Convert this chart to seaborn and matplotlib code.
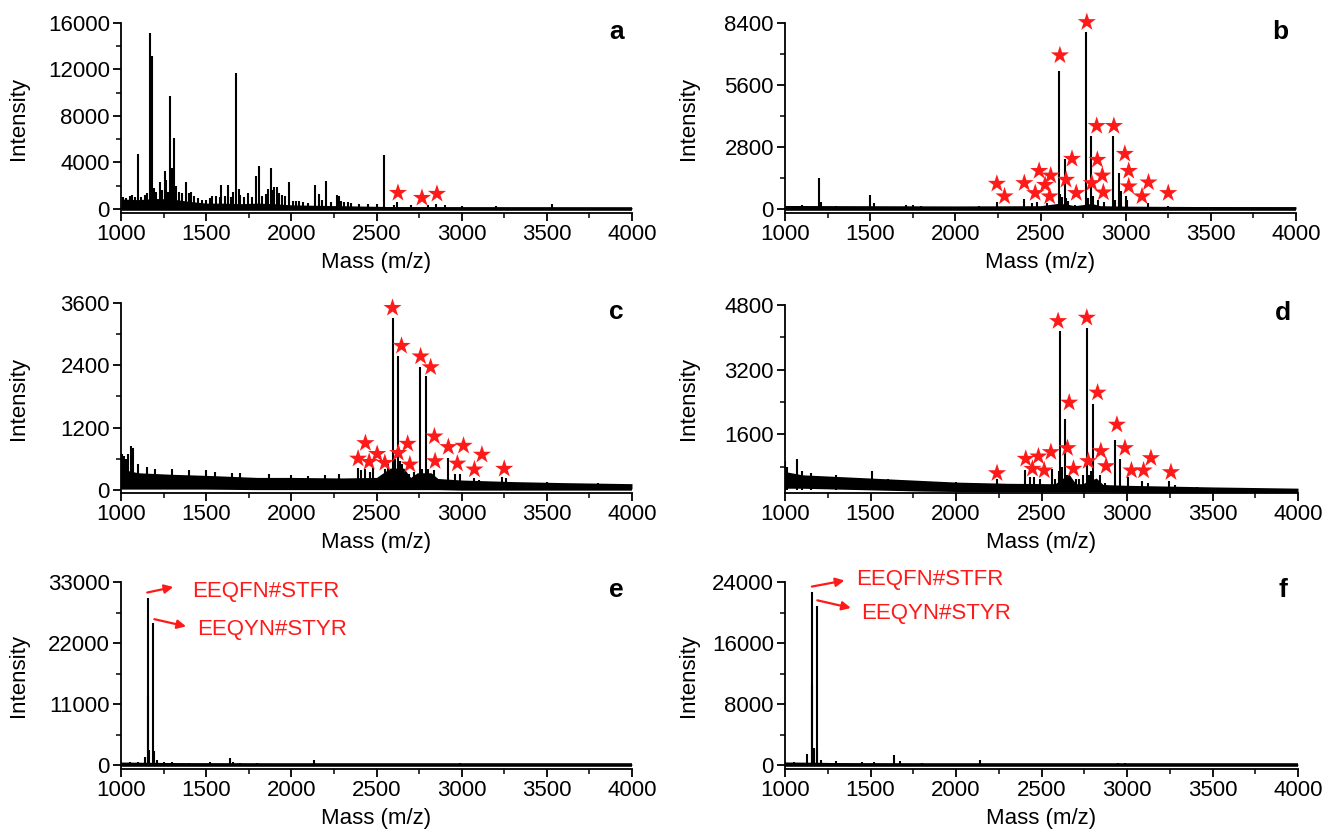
import numpy as np
import pandas as pd
import matplotlib
matplotlib.use("Agg")
import matplotlib.pyplot as plt
from matplotlib.ticker import MultipleLocator
import seaborn as sns

sns.set_theme(style="ticks")
plt.rcParams["font.family"] = ["Liberation Sans", "DejaVu Sans"]

# ---------------- spectra (m/z, intensity) ----------------
# a
a_peak_mass = [1100, 1172, 1184, 1227, 1256, 1286, 1297, 1311, 1384, 1409, 1477, 1532, 1559,
               1590, 1630, 1657, 1677, 1690, 1745, 1793, 1808, 1865, 1880, 1900, 1917, 1943,
               1987, 2045, 2070, 2137, 2162, 2205, 2266, 2280, 2310, 2335, 2545,
               1010, 1030, 1050, 1065, 1080, 1120, 1140, 1155, 1195, 1205, 1240, 1265, 1275,
               1300, 1320, 1340, 1360, 1400, 1430, 1450, 1500, 1520, 1580, 1610, 1645, 1700,
               1720, 1770, 1830, 1850, 1890, 1930, 1960, 2010, 2030, 2100, 2180, 2230, 2290,
               2350, 2400, 2450, 2500, 2600, 2620, 2700, 2800, 2850, 2900, 3000, 3200, 3530]
a_peak_int = [4700, 15100, 13200, 2300, 3300, 9750, 3400, 6100, 2300, 1500, 800, 1100, 1100,
              2100, 2050, 1500, 11700, 1700, 1350, 2800, 3700, 1700, 3500, 1900, 1900, 1200,
              2300, 700, 600, 2100, 1300, 2400, 1200, 1100, 600, 600, 4600,
              1000, 900, 1100, 1200, 1000, 1000, 1200, 1400, 1800, 1500, 1600, 2500, 1500,
              3500, 2000, 1500, 1400, 1400, 1100, 900, 800, 900, 1000, 1100, 1000, 1200,
              1000, 1000, 1100, 1300, 1600, 1400, 1100, 700, 700, 500, 800, 600, 700,
              500, 400, 400, 400, 350, 600, 300, 300, 400, 300, 250, 250, 450]
a_star_mass = [2626, 2767, 2855]
a_star_int = [1380, 950, 1300]
a_base_mass = [1000, 1100, 1200, 1300, 1400, 1500, 1600, 1700, 1800, 1900, 2000, 2200, 2400,
               2600, 3000, 3500, 4000]
a_base_lo = [0] * 17
a_base_hi = [850, 800, 900, 850, 650, 500, 500, 450, 500, 450, 350, 300, 250, 200, 170, 150, 130]

# b
b_peak_mass = [1100, 1200, 1210, 1300, 1500, 1520, 1710, 1750, 1800, 2140, 2244, 2405, 2450,
               2480, 2540, 2606, 2615, 2625, 2641, 2650, 2660, 2700, 2765, 2780, 2798, 2810,
               2840, 2870, 2927, 2940, 2960, 2975, 3000, 3010, 3130, 3250]
b_peak_int = [200, 1400, 300, 150, 630, 250, 200, 200, 150, 150, 300, 450, 250,
              300, 250, 6250, 700, 550, 2250, 500, 350, 200, 8000, 500, 3300, 600,
              400, 300, 3300, 400, 1620, 800, 570, 400, 250, 150]
b_star_mass = [2772, 2614, 2830, 2931, 2685, 2834, 2995, 2492, 2560, 3018, 2244, 2405, 2527,
               2650, 2863, 2801, 3134, 2289, 2469, 2554, 2710, 2869, 3018, 3096, 3250]
b_star_int = [8440, 6940, 3750, 3750, 2265, 2220, 2490, 1720, 1510, 1720, 1140, 1170, 1090,
              1320, 1510, 1170, 1200, 570, 720, 570, 720, 750, 1020, 570, 720]
b_base_mass = [1000, 1500, 2000, 2500, 2600, 2650, 2700, 2750, 2800, 2850, 3000, 3500, 4000]
b_base_lo = [0] * 13
b_base_hi = [160, 150, 140, 150, 250, 230, 150, 200, 250, 150, 130, 110, 100]

# c
c_peak_mass = [2594, 2628, 2755, 2791, 2918,
               1005, 1015, 1030, 1040, 1060, 1070, 1100, 1150, 1200, 1300, 1400, 1500, 1550,
               1650, 1700, 1870, 2000, 2100, 2200, 2280, 2392, 2410, 2435, 2460, 2480, 2550,
               2570, 2600, 2610, 2640, 2650, 2690, 2720, 2770, 2800, 2840, 2960, 2990, 3075,
               3100, 3236, 3260, 3500, 3800]
c_peak_int = [3315, 2583, 2362, 2202, 615,
              700, 650, 600, 700, 850, 800, 500, 450, 400, 400, 380, 380, 350,
              330, 330, 300, 280, 260, 280, 300, 420, 380, 400, 350, 450, 400,
              500, 550, 600, 550, 500, 300, 350, 400, 400, 380, 300, 300, 230,
              200, 250, 220, 150, 130]
c_star_mass = [2594, 2647, 2759, 2818, 2435, 2392, 2457, 2504, 2549, 2628, 2683, 2696, 2840,
               2844, 2922, 2975, 3011, 3075, 3119, 3250]
c_star_int = [3505, 2774, 2571, 2363, 901, 602, 539, 692, 520, 711, 888, 488, 1029,
              553, 825, 507, 850, 393, 678, 406]
c_base_mass = [1000, 1100, 1300, 1500, 1800, 2000, 2300, 2500, 2580, 2660, 2700, 2740, 2820,
               2860, 3000, 3300, 3600, 4000]
c_base_lo = [40, 40, 40, 40, 30, 30, 30, 30, 30, 30, 30, 30, 30, 30, 20, 20, 20, 20]
c_base_hi = [400, 330, 300, 280, 240, 240, 230, 240, 420, 420, 240, 330, 330, 220, 190, 160,
             140, 120]

# d
d_peak_mass = [2607, 2769, 2636, 2802, 2931, 2960,
               1000, 1010, 1070, 1100, 1150, 1300, 1510, 1600, 1800, 2000, 2240, 2402, 2434,
               2457, 2492, 2564, 2580, 2600, 2620, 2650, 2700, 2720, 2745, 2780, 2790, 2841,
               2870, 3003, 3085, 3120, 3247, 3280, 3412, 3600]
d_peak_int = [4154, 4220, 1972, 2343, 1451, 997,
              950, 800, 980, 700, 650, 600, 700, 500, 450, 420, 500, 731, 550,
              550, 500, 750, 500, 700, 800, 600, 500, 500, 600, 600, 700, 600,
              400, 550, 450, 400, 450, 350, 300, 250]
d_star_mass = [2597, 2765, 2662, 2828, 2941, 2652, 2988, 2408, 2482, 2555, 2773, 2847, 3140,
               2447, 2516, 2687, 2878, 3026, 3097, 3257, 2240]
d_star_int = [4402, 4485, 2385, 2633, 1840, 1260, 1260, 996, 1054, 1161, 938, 1186, 1012,
              748, 707, 748, 814, 707, 707, 665, 640]
d_base_mass = [1000, 1100, 1300, 1500, 1800, 2000, 2300, 2580, 2660, 2700, 2740, 2820, 2860,
               3000, 3500, 4000]
d_base_lo = [300, 300, 280, 260, 230, 220, 210, 210, 210, 210, 210, 210, 210, 200, 190, 180]
d_base_hi = [680, 600, 560, 520, 460, 420, 390, 380, 620, 380, 380, 520, 360, 340, 300, 270]

# e
e_peak_mass = [1157, 1187, 1160, 1165, 1192,
               1000, 1050, 1100, 1140, 1210, 1250, 1300, 1400, 1520, 1638, 1660, 1700, 1800,
               2136, 2500, 2990]
e_peak_int = [30200, 25700, 12500, 2700, 2500,
              500, 600, 600, 1500, 900, 600, 500, 450, 600, 1200, 600, 400, 350,
              900, 200, 300]
e_base_mass = [1000, 1200, 1400, 1600, 2000, 2500, 3000, 4000]
e_base_lo = [0] * 8
e_base_hi = [550, 500, 400, 350, 280, 220, 200, 180]

# f
f_peak_mass = [1157, 1189, 1160, 1170, 1185,
               1000, 1050, 1130, 1210, 1300, 1450, 1520, 1640, 1670, 1800, 2140, 2950, 2990]
f_peak_int = [22700, 20900, 10500, 2300, 2000,
              400, 400, 1500, 700, 500, 400, 400, 1300, 500, 350, 720, 250, 300]
f_base_mass = [1000, 1200, 1400, 1600, 2000, 2500, 3000, 4000]
f_base_lo = [0] * 8
f_base_hi = [420, 380, 300, 260, 200, 170, 150, 130]

# peptide labels
pep_labels = ["EEQFN#STFR", "EEQYN#STYR"]

# ---------------- figure ----------------
W, H = 1326, 836
fig = plt.figure(figsize=(W / 100, H / 100), dpi=100)

FS = 16
RED = "#ff1a1a"


def make_axes(l, t, r, b):
    return fig.add_axes([l / W, 1 - b / H, (r - l) / W, (b - t) / H])


def style(ax, ylim, major, minor, letter, label_px):
    ax.set_xlim(1000, 4000)
    ax.set_ylim(*ylim)
    ax.set_xticks(range(1000, 4001, 500))
    ax.xaxis.set_minor_locator(MultipleLocator(250))
    ax.set_yticks(major)
    ax.yaxis.set_minor_locator(MultipleLocator(minor))
    for s in ["top", "right"]:
        ax.spines[s].set_visible(False)
    for s in ["left", "bottom"]:
        ax.spines[s].set_linewidth(1.3)
        ax.spines[s].set_color("black")
    ax.tick_params(which="major", direction="out", length=6, width=1.3,
                   labelsize=FS, pad=2, colors="black")
    ax.tick_params(which="minor", direction="out", length=3.5, width=1.1, colors="black")
    ax.set_xlabel("Mass (m/z)", fontsize=FS, labelpad=5, color="black")
    ax.set_ylabel("Intensity", fontsize=FS, color="black")
    bb = ax.get_position()
    ax.yaxis.set_label_coords(-(bb.x0 * W - label_px) / (bb.width * W), 0.5)
    ax.text(0.97, 0.955, letter, transform=ax.transAxes, ha="center", va="center",
            fontsize=19, fontweight="bold", color="black")
    ax.set_facecolor("white")


def draw_spectrum(ax, pm, pi, bm, blo, bhi, floor, base_lw=2.6):
    ax.fill_between(bm, blo, bhi, color="black", lw=0, zorder=2)
    base = pd.DataFrame({"mass": bm, "intensity": blo})
    sns.lineplot(data=base, x="mass", y="intensity", ax=ax, color="black",
                 lw=base_lw, zorder=3, legend=False)
    ax.vlines(pm, floor, pi, color="black", lw=1.5, zorder=3)


def draw_stars(ax, sm, si):
    stars = pd.DataFrame({"mass": sm, "intensity": si})
    sns.scatterplot(data=stars, x="mass", y="intensity", ax=ax, marker="*", s=190,
                    color=RED, edgecolor="none", zorder=5, legend=False)
    for coll in ax.collections[-1:]:
        coll.set_clip_on(False)


panels = [
    dict(rect=(121, 23, 632, 213), ylim=(-350, 16000), major=[0, 4000, 8000, 12000, 16000],
         minor=2000, letter="a", lab=29, pm=a_peak_mass, pi=a_peak_int, bm=a_base_mass,
         blo=a_base_lo, bhi=a_base_hi, floor=0, sm=a_star_mass, si=a_star_int),
    dict(rect=(785, 23, 1296, 213), ylim=(-180, 8400), major=[0, 2800, 5600, 8400],
         minor=1400, letter="b", lab=699, pm=b_peak_mass, pi=b_peak_int, bm=b_base_mass,
         blo=b_base_lo, bhi=b_base_hi, floor=0, sm=b_star_mass, si=b_star_int),
    dict(rect=(121, 303, 632, 493), ylim=(-60, 3600), major=[0, 1200, 2400, 3600],
         minor=600, letter="c", lab=29, pm=c_peak_mass, pi=c_peak_int, bm=c_base_mass,
         blo=c_base_lo, bhi=c_base_hi, floor=40, sm=c_star_mass, si=c_star_int),
    dict(rect=(785, 305, 1298, 493), ylim=(150, 4800), major=[1600, 3200, 4800],
         minor=800, letter="d", lab=699, pm=d_peak_mass, pi=d_peak_int, bm=d_base_mass,
         blo=d_base_lo, bhi=d_base_hi, floor=220, sm=d_star_mass, si=d_star_int),
    dict(rect=(121, 582, 632, 769), ylim=(-700, 33000), major=[0, 11000, 22000, 33000],
         minor=5500, letter="e", lab=29, pm=e_peak_mass, pi=e_peak_int, bm=e_base_mass,
         blo=e_base_lo, bhi=e_base_hi, floor=0, sm=None, si=None),
    dict(rect=(785, 582, 1298, 769), ylim=(-500, 24000), major=[0, 8000, 16000, 24000],
         minor=4000, letter="f", lab=699, pm=f_peak_mass, pi=f_peak_int, bm=f_base_mass,
         blo=f_base_lo, bhi=f_base_hi, floor=0, sm=None, si=None),
]

axes = []
for p in panels:
    ax = make_axes(*p["rect"])
    draw_spectrum(ax, p["pm"], p["pi"], p["bm"], p["blo"], p["bhi"], p["floor"])
    if p["sm"] is not None:
        draw_stars(ax, p["sm"], p["si"])
    style(ax, p["ylim"], p["major"], p["minor"], p["letter"], p["lab"])
    axes.append(ax)

# peptide annotations with arrows (e and f)
arrow_kw = dict(arrowstyle="-|>", color=RED, lw=1.6, mutation_scale=13,
                shrinkA=0, shrinkB=0)
ann = [
    (axes[4], [(1154, 31100, 1307, 32100, 1415, 31200),
               (1196, 26300, 1382, 25000, 1448, 24500)]),
    (axes[5], [(1157, 23400, 1348, 24200, 1414, 24300),
               (1189, 21600, 1385, 20600, 1446, 19900)]),
]
for ax, items in ann:
    for (x0, y0, x1, y1, tx, ty), lab in zip(items, pep_labels):
        ax.annotate("", xy=(x1, y1), xytext=(x0, y0), arrowprops=arrow_kw,
                    annotation_clip=False, zorder=6)
        ax.text(tx, ty, lab, color=RED, fontsize=FS, ha="left", va="center",
                zorder=6, clip_on=False)

fig.savefig("out.png", dpi=100, facecolor="white")
